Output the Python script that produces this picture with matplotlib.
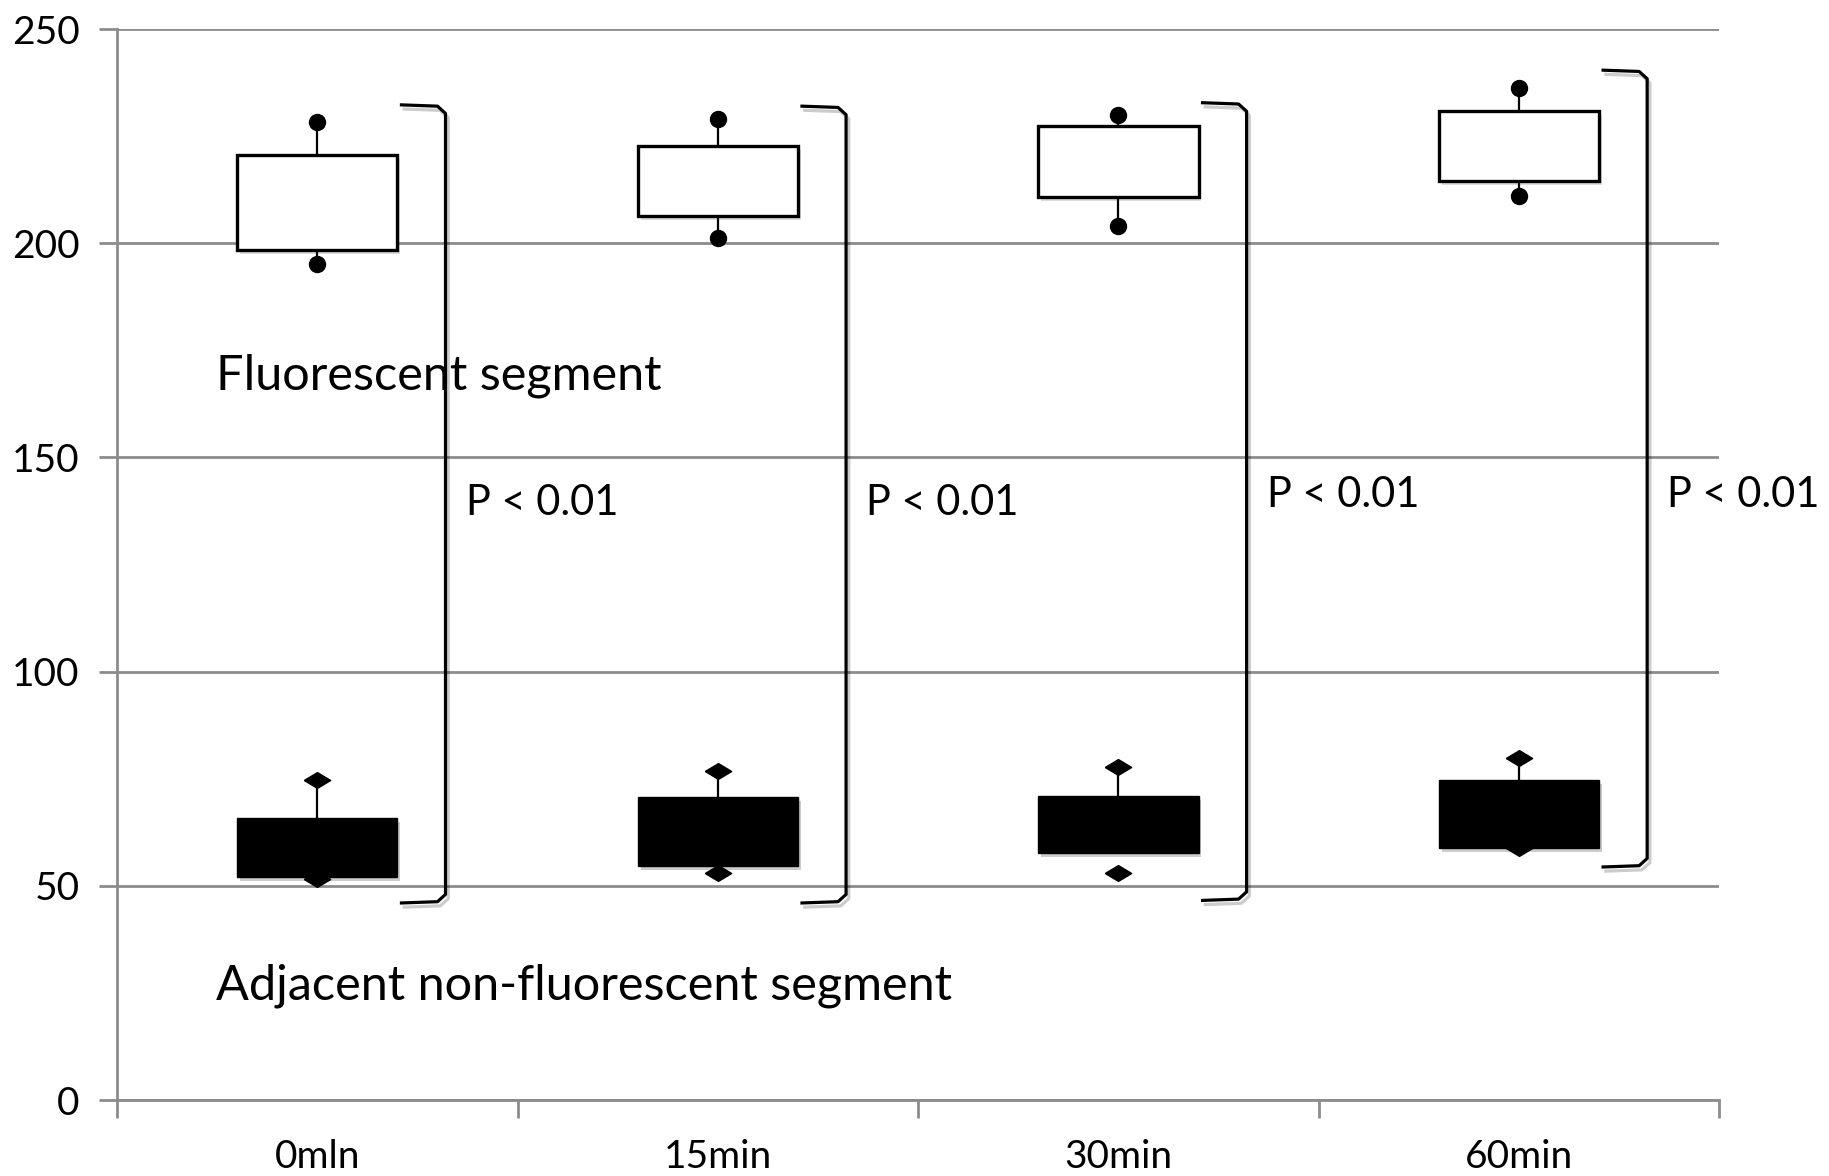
import matplotlib.pyplot as plt
import matplotlib.patheffects as pe
import numpy as np

plt.rcParams['font.family'] = ['Lato', 'DejaVu Sans']

categories = ['0mln', '15min', '30min', '60min']

# fluorescent segment (white boxes)
fl_q1 = [198.4, 206.4, 210.8, 214.5]
fl_q3 = [220.7, 222.8, 227.4, 230.8]
fl_lo = [195.1, 201.2, 204.1, 211.1]
fl_hi = [228.2, 229.0, 229.9, 236.2]

# adjacent non-fluorescent segment (black boxes)
nf_q1 = [52.0, 54.7, 57.7, 58.9]
nf_q3 = [65.8, 70.7, 71.0, 74.7]
nf_lo = [51.5, 53.0, 53.0, 58.8]
nf_hi = [74.7, 76.7, 77.8, 79.8]

# brackets spanning both groups, with p-values
br_top = [232.3, 232.0, 232.8, 240.4]
br_bot = [46.0, 46.0, 46.6, 54.4]
p_text = ['P < 0.01'] * 4
p_y = [139.3, 139.3, 141.2, 141.2]

fig = plt.figure(figsize=(18.29, 11.76), dpi=100)
ax = fig.add_axes([0.064, 0.0646, 0.876, 0.9107])

shadow = [pe.SimplePatchShadow(offset=(2, -3), alpha=0.2), pe.Normal()]
lshadow = [pe.SimpleLineShadow(offset=(2, -3), alpha=0.2), pe.Normal()]

diamond = [(-1, 0), (0, 0.6), (1, 0), (0, -0.6), (-1, 0)]
bw = 0.4
for i in range(4):
    c = 0.5 + i
    # white box
    ax.plot([c, c], [fl_q3[i], fl_hi[i]], color='black', lw=1.6, zorder=3)
    ax.plot([c, c], [fl_lo[i], fl_q1[i]], color='black', lw=1.6, zorder=3)
    ax.add_patch(plt.Rectangle((c - bw / 2, fl_q1[i]), bw, fl_q3[i] - fl_q1[i],
                               facecolor='white', edgecolor='black', lw=2.4,
                               zorder=4, path_effects=shadow))
    ax.plot([c, c], [fl_lo[i], fl_hi[i]], 'o', color='black', ms=11.5, zorder=5, ls='none')
    # black box
    ax.plot([c, c], [nf_q3[i], nf_hi[i]], color='black', lw=1.6, zorder=3)
    ax.plot([c, c], [nf_lo[i], nf_hi[i]], marker=diamond, color='black', ms=19,
            ls='none', zorder=3)
    ax.add_patch(plt.Rectangle((c - bw / 2, nf_q1[i]), bw, nf_q3[i] - nf_q1[i],
                               facecolor='black', edgecolor='black', lw=1,
                               zorder=4, path_effects=shadow))
    # bracket
    x0 = c + 0.21
    x1 = c + 0.32
    bx = [x0, x1 - 0.02, x1, x1, x1 - 0.02, x0]
    by = [br_top[i], br_top[i] - 0.3, br_top[i] - 2, br_bot[i] + 2, br_bot[i] + 0.3, br_bot[i]]
    ax.plot(bx, by, color='black', lw=2.3, zorder=4, path_effects=lshadow,
            solid_joinstyle='round', clip_on=False)
    ax.text(c + 0.37, p_y[i], p_text[i], fontsize=30, va='center', ha='left',
            clip_on=False)

ax.text(0.247, 169, 'Fluorescent segment', fontsize=35, va='center', ha='left')
ax.text(0.247, 26.7, 'Adjacent non-fluorescent segment', fontsize=35, va='center', ha='left')

ax.set_xlim(0, 4)
ax.set_ylim(0, 250)
ax.set_yticks([0, 50, 100, 150, 200, 250])
ax.set_xticks([0, 1, 2, 3, 4])
ax.set_xticklabels([])
ax.set_xticks([0.5, 1.5, 2.5, 3.5], minor=True)
ax.set_xticklabels(categories, minor=True)
ax.tick_params(axis='x', which='minor', length=0, labelsize=28, pad=28)
ax.tick_params(axis='x', which='major', length=13, width=2, color='#8c8c8c', direction='out')
ax.tick_params(axis='y', length=13, width=2, color='#8c8c8c', labelsize=28, pad=14)
ax.grid(axis='y', color='#8c8c8c', lw=2)
ax.set_axisbelow(True)
for s in ['top', 'right']:
    ax.spines[s].set_visible(False)
for s in ['left', 'bottom']:
    ax.spines[s].set_color('#8c8c8c')
    ax.spines[s].set_linewidth(2)

fig.savefig('out.png', dpi=100)
